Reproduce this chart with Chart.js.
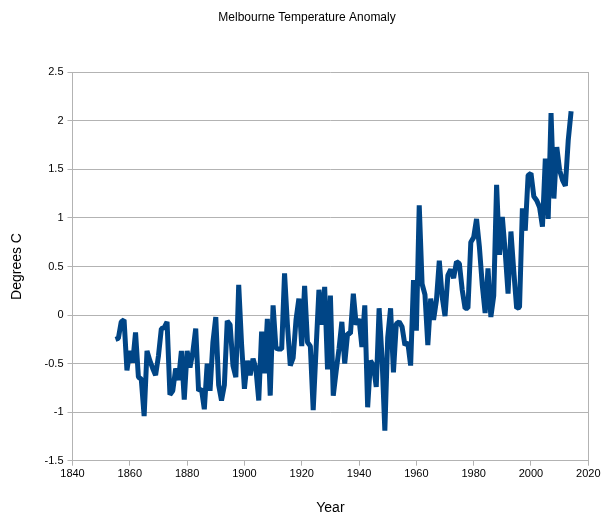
<!DOCTYPE html>
<html>
<head>
<meta charset="utf-8">
<title>Melbourne Temperature Anomaly</title>
<script src="https://cdn.jsdelivr.net/npm/chart.js@4/dist/chart.umd.min.js"></script>
<style>
  html, body { margin: 0; padding: 0; background: #ffffff; }
  #wrap { position: relative; width: 614px; height: 523px; }
</style>
</head>
<body>
<div id="wrap"><canvas id="anomaly-canvas"></canvas></div>
<script>
// Annual temperature anomaly, one value per year starting at FIRST_YEAR
const FIRST_YEAR = 1855;

const anomaly1855to1894 = [
  -0.25, -0.24, -0.07, -0.05, -0.57, -0.37, -0.49, -0.18, -0.64, -0.66,
  -1.04, -0.37, -0.47, -0.55, -0.62, -0.42, -0.14, -0.13, -0.07, -0.82,
  -0.78, -0.55, -0.67, -0.37, -0.87, -0.37, -0.54, -0.38, -0.14, -0.78,
  -0.76, -0.97, -0.50, -0.78, -0.28, -0.02, -0.72, -0.88, -0.72, -0.06
];
const anomaly1895to1934 = [
  -0.10, -0.52, -0.64, 0.31, -0.30, -0.76, -0.47, -0.62, -0.45, -0.55,
  -0.88, -0.17, -0.60, -0.04, -0.83, 0.10, -0.34, -0.35, -0.35, 0.43,
  -0.10, -0.52, -0.44, -0.05, 0.17, -0.32, 0.30, -0.28, -0.32, -0.98,
  -0.35, 0.26, -0.10, 0.29, -0.56, 0.20, -0.83, -0.58, -0.35, -0.07
];
const anomaly1935to1974 = [
  -0.50, -0.19, -0.19, 0.22, -0.10, -0.04, -0.33, 0.10, -0.95, -0.47,
  -0.52, -0.74, 0.07, -0.43, -1.19, -0.23, 0.07, -0.59, -0.09, -0.07,
  -0.12, -0.31, -0.28, -0.52, 0.36, -0.16, 1.13, 0.32, 0.21, -0.31,
  0.17, -0.05, 0.15, 0.56, 0.19, -0.01, 0.41, 0.47, 0.38, 0.55
];
const anomaly1975to2014 = [
  0.53, 0.26, 0.07, 0.07, 0.75, 0.80, 0.99, 0.70, 0.31, 0.02,
  0.48, -0.02, 0.20, 1.34, 0.62, 1.01, 0.65, 0.22, 0.86, 0.45,
  0.07, 0.08, 1.10, 0.87, 1.44, 1.46, 1.22, 1.18, 1.11, 0.91,
  1.61, 0.99, 2.08, 1.20, 1.73, 1.49, 1.39, 1.33, 1.80, 2.10
];

const xTickValues = [1840, 1860, 1880, 1900, 1920, 1940, 1960, 1980, 2000, 2020];
const yTickValues = [-1.5, -1, -0.5, 0, 0.5, 1, 1.5, 2, 2.5];

const GRID_COLOR = '#b3b3b3';
const LINE_COLOR = '#004586';
const FONT_FAMILY = '"Liberation Sans", Arial, sans-serif';

var allValues = anomaly1855to1894.concat(anomaly1895to1934, anomaly1935to1974, anomaly1975to2014);
var points = allValues.map((v, i) => ({ x: FIRST_YEAR + i, y: v }));

function useTicks(values) {
  return function(scale) {
    scale.ticks = values.map(v => ({ value: v }));
  };
}

new Chart(document.getElementById('anomaly-canvas'), {
  type: 'line',
  data: {
    datasets: [{
      label: 'Anomaly',
      data: points,
      borderColor: LINE_COLOR,
      backgroundColor: LINE_COLOR,
      borderWidth: 5,
      borderJoinStyle: 'bevel',
      borderCapStyle: 'butt',
      pointRadius: 0,
      tension: 0,
      fill: false
    }]
  },
  options: {
    responsive: true,
    maintainAspectRatio: false,
    animation: false,
    layout: { padding: 0 },
    scales: {
      x: {
        type: 'linear',
        min: 1840,
        max: 2020,
        afterBuildTicks: useTicks(xTickValues),
        afterFit: function(scale) { scale.height = 62.3; },
        grid: {
          drawOnChartArea: false,
          tickColor: GRID_COLOR,
          tickLength: 5,
          lineWidth: 1
        },
        border: { color: GRID_COLOR, width: 1 },
        ticks: {
          color: '#000000',
          padding: 2,
          maxRotation: 0,
          autoSkip: false,
          font: { family: FONT_FAMILY, size: 11 },
          callback: val => String(val)
        },
        title: {
          display: true,
          text: 'Year',
          color: '#000000',
          padding: { top: 0, bottom: 6.6 },
          font: { family: FONT_FAMILY, size: 14 }
        }
      },
      y: {
        min: -1.5,
        max: 2.5,
        afterBuildTicks: useTicks(yTickValues),
        afterFit: function(scale) { scale.width = 72.5; },
        grid: {
          color: GRID_COLOR,
          tickColor: GRID_COLOR,
          tickLength: 5,
          lineWidth: 1
        },
        border: { color: GRID_COLOR, width: 1 },
        ticks: {
          color: '#000000',
          padding: 4,
          autoSkip: false,
          font: { family: FONT_FAMILY, size: 11 },
          callback: val => String(parseFloat(val.toFixed(1)))
        },
        title: {
          display: true,
          text: 'Degrees C',
          color: '#000000',
          padding: { top: 8.6, bottom: 0 },
          font: { family: FONT_FAMILY, size: 14 }
        }
      },
      // right frame edge only; also keeps the title centred on the full width
      yRight: {
        position: 'right',
        min: -1.5,
        max: 2.5,
        afterFit: function(scale) { scale.width = 25.7; },
        grid: { drawOnChartArea: false, drawTicks: false },
        border: { display: true, color: GRID_COLOR, width: 1 },
        ticks: { display: false }
      }
    },
    plugins: {
      legend: { display: false },
      tooltip: { enabled: false },
      title: {
        display: true,
        text: 'Melbourne Temperature Anomaly',
        color: '#000000',
        padding: { top: 10, bottom: 47.9 },
        font: { family: FONT_FAMILY, size: 12, weight: 'normal' }
      }
    }
  }
});
</script>
</body>
</html>
